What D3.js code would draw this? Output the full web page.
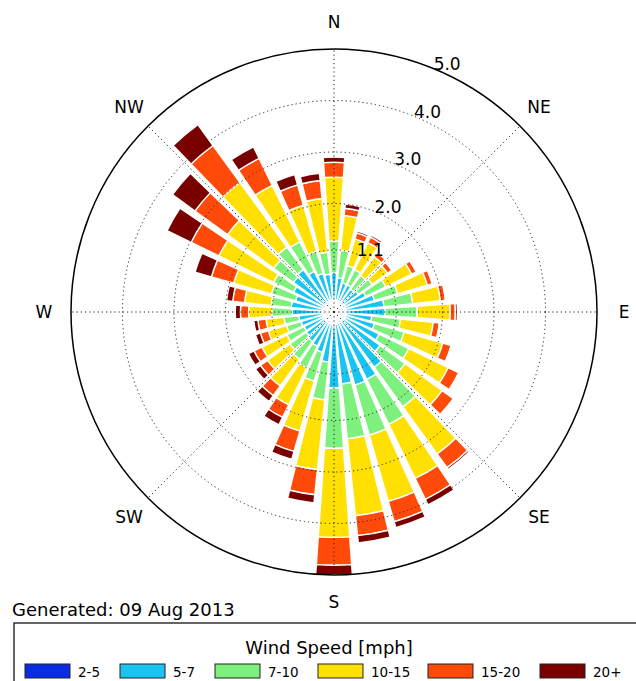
<!DOCTYPE html>
<html><head><meta charset="utf-8">
<script src="https://cdn.jsdelivr.net/npm/d3@7/dist/d3.min.js"></script>
<style>body{margin:0;background:#fff;} svg{display:block;font-family:"DejaVu Sans",sans-serif;}</style>
</head><body><svg id="c" width="636" height="681"></svg>
<script>
// ---- data ----
const directions = d3.range(0, 360, 10); // bearing of each sector, degrees clockwise from N
const speedBins = ["2-5", "5-7", "7-10", "10-15", "15-20", "20+"];
const binColors = ["#0a2ce6", "#19c4f0", "#7df07d", "#ffe000", "#ff4a0a", "#7a0000"];
const s2_5  = [0.13,0.13,0.13,0.13,0.13,0.13,0.13,0.13,0.13,0.13,0.13,0.13,0.13,0.13,0.13,0.13,0.13,0.13,0.13,0.13,0.13,0.13,0.13,0.13,0.13,0.13,0.13,0.13,0.13,0.13,0.13,0.13,0.13,0.13,0.13,0.13];
const s5_7  = [0.52,0.43,0.35,0.35,0.31,0.35,0.45,0.58,0.74,0.76,0.50,0.58,0.74,0.87,1.09,1.22,1.24,1.17,1.24,0.74,0.58,0.50,0.47,0.43,0.41,0.43,0.45,0.58,0.60,0.54,0.64,0.74,0.78,0.64,0.54,0.50];
const s7_10 = [0.62,0.54,0.35,0.33,0.33,0.33,0.43,0.47,0.56,0.62,0.56,0.60,0.64,0.60,0.95,0.97,1.01,1.07,1.17,0.74,0.58,0.47,0.43,0.39,0.37,0.29,0.29,0.39,0.39,0.49,0.43,0.47,0.54,0.64,0.45,0.43];
const s10_15= [1.24,0.68,0.54,0.58,0.45,0.37,0.56,0.60,0.54,0.64,0.64,0.78,0.85,0.89,1.13,1.17,1.34,1.50,1.73,1.36,1.01,0.80,0.64,0.54,0.54,0.37,0.35,0.45,0.52,0.76,1.18,1.11,1.55,1.22,0.93,1.05];
const s15_20= [0.29,0.14,0.12,0.12,0.10,0.10,0.10,0.10,0.10,0.10,0.12,0.17,0.23,0.27,0.33,0.45,0.41,0.39,0.54,0.49,0.41,0.27,0.23,0.17,0.17,0.16,0.16,0.16,0.23,0.45,0.60,0.78,0.89,0.58,0.41,0.35];
const s20p  = [0.10,0.08,0.04,0.04,0.02,0.02,0.01,0.01,0.01,0.04,0.01,0.01,0.01,0.02,0.04,0.12,0.12,0.14,0.19,0.16,0.16,0.16,0.14,0.12,0.12,0.10,0.08,0.10,0.12,0.33,0.52,0.54,0.50,0.25,0.21,0.14];
const radialTicks = [1.1, 2, 3, 4, 5];
const radialTickLabels = ["1.1", "2.0", "3.0", "4.0", "5.0"];
const compassLabels = ["N", "NE", "E", "SE", "S", "SW", "W", "NW"];
const generatedText = "Generated: 09 Aug 2013";
const legendTitle = "Wind Speed [mph]";

// ---- layout ----
const cx = 334, cy = 312, R = 263;
const rMax = 5;
const series = [s2_5, s5_7, s7_10, s10_15, s15_20, s20p];
const rad = d3.scaleLinear().domain([0, rMax]).range([5.5, R]);
const ang = d3.scaleLinear().domain([0, 360]).range([0, 2 * Math.PI]);
const halfW = 4; // degrees

const svg = d3.select("#c");
const g = svg.append("g").attr("transform", `translate(${cx},${cy})`);

// stacked bars
const stacked = directions.map((d, i) => {
  let acc = 0;
  return series.map((s, k) => { const a0 = acc; acc += s[i]; return {dir: d, k, a0, a1: acc}; });
});
const arc = d3.arc()
  .innerRadius(d => rad(d.a0))
  .outerRadius(d => rad(d.a1))
  .startAngle(d => ang(d.dir - halfW))
  .endAngle(d => ang(d.dir + halfW));
g.append("g").selectAll("path").data(stacked.flat()).join("path")
  .attr("d", arc)
  .attr("fill", d => binColors[d.k])
  .attr("stroke", "#fff").attr("stroke-width", 1.4).attr("stroke-linejoin", "miter");

// grid (on top of bars)
const grid = g.append("g").attr("fill", "none").attr("stroke", "#222").attr("stroke-width", 1).attr("stroke-dasharray", "1.2,3");
grid.selectAll("circle").data(radialTicks.slice(0, -1)).join("circle").attr("r", d => rad(d));
grid.selectAll("line").data(d3.range(0, 360, 45)).join("line")
  .attr("x1", 0).attr("y1", 0)
  .attr("x2", d => R * Math.sin(ang(d))).attr("y2", d => -R * Math.cos(ang(d)));

// outer circle
g.append("circle").attr("r", R).attr("fill", "none").attr("stroke", "#000").attr("stroke-width", 1.5);

// radial tick labels at 22.5 deg
const la = ang(22.5);
g.selectAll("text.rt").data(radialTicks).join("text").attr("class", "rt")
  .attr("x", d => rad(d) * Math.sin(la) - 1)
  .attr("y", d => -rad(d) * Math.cos(la) + 1)
  .attr("font-size", 17).attr("fill", "#000")
  .text((d, i) => radialTickLabels[i]);

// compass labels
g.selectAll("text.cl").data(compassLabels).join("text").attr("class", "cl")
  .attr("x", (d, i) => 290 * Math.sin(ang(i * 45)))
  .attr("y", (d, i) => -290 * Math.cos(ang(i * 45)))
  .attr("text-anchor", "middle").attr("dominant-baseline", "central")
  .attr("font-size", 17).attr("fill", "#000")
  .text(d => d);

// generated text
svg.append("text").attr("x", 12).attr("y", 616).attr("font-size", 18).text(generatedText);

// legend
const lg = svg.append("g");
lg.append("rect").attr("x", 14).attr("y", 623).attr("width", 700).attr("height", 120)
  .attr("fill", "#fff").attr("stroke", "#333").attr("stroke-width", 1.5);
lg.append("text").attr("x", 329).attr("y", 654).attr("text-anchor", "middle").attr("font-size", 18).text(legendTitle);
const patchX = [25, 120, 215, 318, 428, 540];
speedBins.forEach((b, i) => {
  lg.append("rect").attr("x", patchX[i]).attr("y", 664).attr("width", 45).attr("height", 14)
    .attr("fill", binColors[i]).attr("stroke", "#222").attr("stroke-width", 1);
  lg.append("text").attr("x", patchX[i] + 53).attr("y", 677).attr("font-size", 13.5).text(b);
});
</script></body></html>
